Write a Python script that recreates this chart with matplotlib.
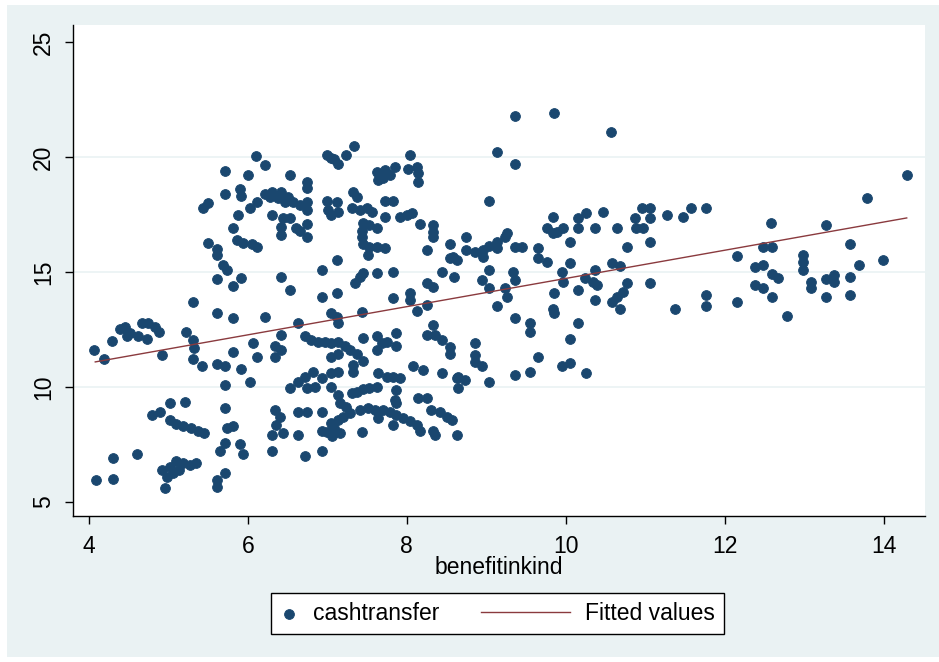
"""
Scatter of cashtransfer vs benefitinkind with linear fit (Stata s2color look).
"""
import matplotlib
matplotlib.use("Agg")
import matplotlib.pyplot as plt
from matplotlib.lines import Line2D
from matplotlib.patches import Rectangle
from matplotlib.legend_handler import HandlerBase

plt.rcParams["font.family"] = ["Liberation Sans", "DejaVu Sans"]

# points, grouped roughly left -> right
benefit = [
    4.06, 4.19, 4.29, 4.39, 4.45, 4.52, 4.62, 4.67, 4.74, 4.73, 4.83, 4.88, 4.48,
    4.92, 5.22, 5.31, 5.32, 5.31, 5.42, 5.31, 5.61, 5.81, 5.81, 5.61, 5.71, 5.92,
    6.03, 5.71, 6.06, 6.11, 5.21, 5.02, 4.90, 4.80, 5.02, 5.10, 5.18, 5.29, 5.37,
    5.45, 5.71, 5.74, 5.81, 5.71, 5.65, 5.90, 5.94, 5.61, 5.61, 5.71, 4.30, 4.61,
    4.09, 4.30, 4.92, 5.02, 5.10, 5.18, 5.27, 5.35, 4.98, 5.06, 4.96, 5.14,
    5.71, 5.43, 5.50, 5.71, 5.90, 6.00, 5.92, 5.87, 6.03, 6.10, 5.81, 5.86, 5.94,
    6.05, 6.11, 5.50, 5.61, 5.61, 5.69, 5.74, 5.61, 5.81, 5.92,
    # upper middle
    6.21, 6.53, 6.74, 6.74, 6.11, 6.21, 6.31, 6.42, 6.50, 6.57, 6.65, 6.74, 6.74,
    6.28, 6.38, 6.47, 6.31, 6.44, 6.53, 6.42, 6.42, 6.65, 6.74, 6.74, 6.61,
    7.00, 7.09, 7.13, 7.24, 7.33, 7.04, 7.00, 7.01, 7.12, 7.13, 7.04,
    7.32, 7.37, 7.31, 7.41, 7.50, 7.56, 7.62, 7.64, 7.72, 7.79, 7.85, 7.70,
    8.04, 8.02, 8.13, 8.14, 8.14, 7.72, 7.83, 7.72, 7.91, 8.00, 8.06, 8.16,
    8.33, 8.33, 8.33, 7.45, 7.53, 7.62, 7.43, 7.43, 7.45, 7.53, 7.62, 7.72, 7.51,
    8.25, 8.54, 8.54, 8.63, 7.12, 6.93, 6.42, 6.53, 7.45, 7.41, 7.35, 7.62, 7.83,
    8.25, 8.33, 8.44, 8.60, 6.93, 7.12, 7.83, 8.04, 8.04, 7.04, 7.12, 7.43, 8.13,
    8.25, 6.21,
    # lower middle
    6.63, 7.13, 8.33, 6.42, 6.34, 6.42, 6.34, 6.72, 6.80, 6.88, 6.97, 7.05, 7.13,
    7.22, 7.28, 7.37, 7.45, 7.04, 7.13, 7.32, 7.32, 7.45, 7.62, 7.69, 7.62, 7.75,
    7.87, 7.87, 8.25, 8.35, 8.44, 8.54, 8.54, 8.08, 8.20, 8.44,
    6.82, 6.72, 6.63, 6.53, 6.74, 6.84, 6.93, 7.04, 7.13, 7.04, 7.64, 7.75, 7.83,
    7.91, 7.62, 7.53, 7.45, 7.37, 7.31, 7.87, 7.13, 7.16, 7.24, 7.85, 7.87, 8.14,
    8.25, 8.63, 6.34, 6.40, 6.36, 6.30, 6.44, 6.63, 6.74, 6.93, 6.63, 6.31, 6.72,
    6.93, 7.04, 7.09, 7.00, 7.13, 7.20, 7.28, 7.06, 6.93, 7.16, 7.43,
    7.41, 7.51, 7.60, 7.70, 7.79, 7.87, 7.95, 8.04, 8.13, 7.83, 7.64, 8.16, 8.33,
    8.35, 8.31, 8.42, 8.50, 8.57, 8.63,
    # right middle
    9.36, 9.85, 10.57, 9.14, 9.36, 9.04, 9.84, 9.77, 9.89, 9.96, 9.84, 10.15,
    10.26, 10.15, 10.37, 10.47, 10.05, 10.65, 10.87, 10.96, 11.06, 11.06, 10.89,
    10.97, 11.27, 11.47, 11.57, 10.77, 11.06,
    8.75, 8.75, 8.86, 8.96, 9.04, 9.14, 9.23, 9.26, 9.14, 8.96, 8.58, 9.36, 9.45,
    9.65, 9.65, 9.76, 9.04, 8.94, 9.33, 9.36, 9.04, 9.23, 9.26, 9.14,
    10.05, 9.95, 9.96, 10.37, 10.24, 10.34, 10.39, 10.58, 10.68, 10.15, 9.85,
    10.37, 10.77, 10.72, 10.64, 10.58, 10.68, 11.06, 11.37,
    9.84, 9.85, 9.36, 9.55, 9.55, 10.15, 10.05, 9.65, 9.95, 10.05, 10.26, 9.55,
    9.36, 9.04, 8.86, 8.86, 8.86, 8.94, 8.64, 8.73, 8.64,
    # far right
    14.29, 13.79, 12.58, 13.28, 13.58, 13.99, 13.69, 12.48, 12.59, 12.16, 12.38,
    12.48, 12.59, 12.67, 12.38, 12.48, 12.59, 12.78, 12.16, 12.98, 12.98, 12.98,
    13.09, 13.09, 13.28, 13.38, 13.38, 13.58, 13.28, 13.58, 11.77, 11.77, 11.77,
]
cash = [
    11.6, 11.2, 12.0, 12.5, 12.6, 12.35, 12.2, 12.8, 12.8, 12.1, 12.6, 12.4, 12.2,
    11.4, 12.4, 12.05, 11.7, 11.2, 10.9, 13.7, 13.2, 13.0, 11.5, 11.0, 10.9, 10.8,
    10.2, 10.1, 11.9, 11.3, 9.35, 9.3, 8.9, 8.8, 8.55, 8.4, 8.3, 8.2, 8.1,
    8.0, 9.1, 8.2, 8.3, 7.55, 7.2, 7.5, 7.1, 5.95, 5.65, 6.25, 6.9, 7.1,
    5.95, 6.0, 6.4, 6.5, 6.8, 6.7, 6.6, 6.7, 6.1, 6.25, 5.6, 6.4,
    19.4, 17.8, 18.0, 18.4, 18.6, 19.2, 18.3, 17.5, 17.8, 20.05, 16.9, 16.4, 16.25,
    16.2, 16.1, 16.25, 16.0, 15.75, 15.3, 15.1, 14.7, 14.4, 14.75,
    # upper middle
    19.65, 19.2, 18.9, 18.65, 18.05, 18.4, 18.5, 18.5, 18.25, 18.05, 17.9, 18.05, 17.7,
    18.25, 18.2, 18.05, 17.5, 17.35, 17.35, 16.95, 16.6, 16.8, 17.1, 16.5, 16.9,
    20.1, 19.9, 19.7, 20.1, 20.5, 19.95, 18.1, 17.7, 18.05, 17.6, 17.5,
    18.5, 18.25, 17.8, 17.7, 17.8, 17.6, 19.35, 19.0, 19.45, 19.2, 19.55, 19.1,
    20.1, 19.5, 19.55, 19.3, 18.9, 18.1, 18.1, 17.4, 17.4, 17.5, 17.55, 17.1,
    17.05, 16.75, 16.5, 17.15, 17.05, 16.9, 16.8, 16.5, 16.2, 16.1, 16.1, 16.05, 15.75,
    15.95, 16.2, 15.6, 15.5, 15.5, 15.1, 14.8, 14.2, 14.95, 14.8, 14.5, 14.95, 15.0,
    14.5, 14.35, 15.0, 14.8, 13.9, 14.1, 13.85, 14.1, 13.8, 13.2, 13.05, 13.25, 13.3,
    13.55, 13.05,
    # lower middle
    12.8, 12.8, 12.7, 12.25, 11.8, 11.6, 11.3, 12.2, 12.05, 11.95, 11.95, 11.9, 11.95,
    11.8, 11.6, 11.45, 11.15, 11.3, 11.45, 10.95, 10.65, 12.15, 12.2, 11.9, 11.6, 11.95,
    12.35, 11.8, 12.25, 12.25, 12.05, 11.75, 11.45, 10.9, 10.75, 10.6,
    10.65, 10.45, 10.2, 9.95, 9.95, 10.0, 10.4, 10.6, 10.65, 10.0, 10.6, 10.45, 10.45,
    10.4, 10.0, 9.95, 9.9, 9.8, 9.75, 9.85, 9.65, 9.3, 9.15, 9.45, 9.3, 9.5,
    9.5, 10.4, 9.0, 8.7, 8.35, 7.9, 8.0, 8.9, 8.9, 8.9, 7.9, 7.2, 7.0,
    7.2, 8.45, 8.2, 8.05, 8.55, 8.7, 8.85, 7.85, 8.1, 8.0, 8.05,
    9.0, 9.1, 9.0, 9.0, 8.9, 8.8, 8.65, 8.5, 8.35, 8.35, 8.65, 8.1, 8.1,
    7.9, 9.0, 8.9, 8.7, 8.55, 7.9,
    # right middle
    21.8, 21.9, 21.1, 20.2, 19.7, 18.1, 17.4, 16.9, 16.75, 16.9, 16.7, 17.35,
    17.55, 16.9, 16.9, 17.6, 16.3, 16.9, 17.35, 17.8, 17.8, 17.35, 16.9,
    16.9, 17.5, 17.4, 17.8, 16.1, 16.3,
    16.5, 15.95, 15.85, 15.95, 16.15, 16.3, 16.5, 16.7, 16.05, 15.65, 15.65, 16.1, 16.1,
    16.05, 15.6, 15.45, 15.1, 14.65, 15.0, 14.65, 14.3, 14.3, 13.9, 13.5,
    15.4, 15.0, 14.55, 15.1, 14.75, 14.55, 14.45, 15.4, 15.25, 14.2, 14.1,
    13.8, 14.5, 14.15, 13.9, 13.7, 13.4, 14.5, 13.4,
    13.4, 13.2, 13.0, 12.8, 12.4, 12.8, 12.1, 11.3, 10.9, 11.05, 10.6, 10.65,
    10.5, 10.2, 11.9, 11.4, 11.1, 10.9, 10.45, 10.3, 9.95,
    # far right
    19.2, 18.2, 17.15, 17.05, 16.2, 15.5, 15.3, 16.1, 16.1, 15.7, 15.2,
    15.3, 14.9, 14.75, 14.45, 14.3, 13.9, 13.1, 13.7, 15.75, 15.45, 15.1,
    14.55, 14.3, 14.7, 14.85, 14.55, 14.8, 13.9, 14.0, 14.0, 13.5, 17.8,
]

# linear fit line endpoints (min/max x)
fit_x = [4.08, 14.29]
fit_y = [11.09, 17.35]

xticks = [4, 6, 8, 10, 12, 14]
yticks = [5, 10, 15, 20, 25]
grid_y = [10, 15, 20]

NAVY, MAROON, BG = "#1A476F", "#8A3A3E", "#EAF2F3"
FS = 16.5


class LongLine(HandlerBase):
    # line drawn leftwards past the short handle box, like Stata's legend key
    def create_artists(self, legend, orig_handle, xdescent, ydescent,
                       width, height, fontsize, trans):
        y = height / 2 - ydescent
        x1 = width - xdescent
        ln = Line2D([x1 - 3.9 * fontsize, x1], [y, y],
                    color=orig_handle.get_color(), lw=orig_handle.get_linewidth())
        ln.set_transform(trans)
        return [ln]


fig = plt.figure(figsize=(9.39, 6.62), dpi=100)
fig.patch.set_facecolor("white")
fig.patches.append(Rectangle((7 / 939, 5 / 662), 932 / 939, 652 / 662,
                             transform=fig.transFigure, facecolor=BG,
                             edgecolor="none", zorder=-10))

ax = fig.add_axes([73 / 939, 1 - 516 / 662, 852 / 939, 491 / 662])
ax.set_facecolor("white")
for g in grid_y:
    ax.axhline(g, color=BG, lw=1.2, zorder=0)

sc = ax.scatter(benefit, cash, s=50, color=NAVY, edgecolors=NAVY, linewidths=0.6,
                label="cashtransfer", zorder=3)
ln, = ax.plot(fit_x, fit_y, color=MAROON, lw=1.0, label="Fitted values", zorder=4)

ax.set_xlim(3.8, 14.52)
ax.set_ylim(4.39, 25.74)
for s in ("top", "right"):
    ax.spines[s].set_visible(False)
for s in ("left", "bottom"):
    ax.spines[s].set_color("black"); ax.spines[s].set_linewidth(1.0)

ax.set_xticks(xticks)
ax.set_yticks(yticks)
ax.tick_params(direction="out", length=6, width=1, labelsize=FS, colors="black")
ax.tick_params(axis="x", pad=8)
ax.tick_params(axis="y", pad=7, labelrotation=90)
for t in ax.get_yticklabels():
    t.set_va("center")
ax.set_xlabel("benefitinkind", fontsize=FS, labelpad=-2)

leg = fig.legend(handles=[sc, ln], labels=["cashtransfer", "Fitted values"],
                 loc="center", bbox_to_anchor=(497.5 / 939, 1 - 613.5 / 662),
                 ncol=2, fontsize=FS, frameon=True, fancybox=False,
                 edgecolor="black", framealpha=1, handlelength=0.8,
                 handletextpad=0.65, columnspacing=4.9, borderpad=0.4,
                 handler_map={ln: LongLine()})
leg.get_frame().set_linewidth(1.0)

fig.savefig("out.png", dpi=100, facecolor=fig.get_facecolor())
